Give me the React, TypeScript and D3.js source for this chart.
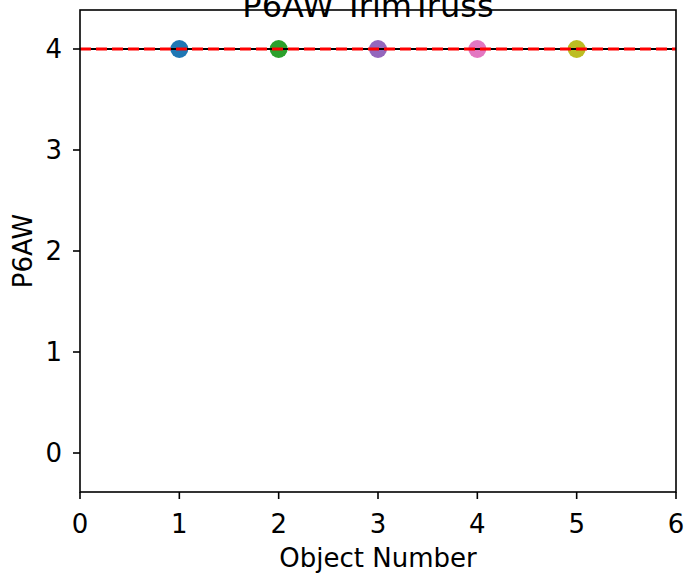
import React from "react";
import * as d3 from "d3";

const objectNumbers = [1, 2, 3, 4, 5];
const p6awValues = [4, 4, 4, 4, 4];
const pointColors = ["#1f77b4", "#2ca02c", "#9467bd", "#e377c2", "#bcbd22"];
const referenceValue = [4];
const xTicks = [0, 1, 2, 3, 4, 5, 6];
const yTicks = [0, 1, 2, 3, 4];
const title = "P6AW TrimTruss";
const xLabel = "Object Number";
const yLabel = "P6AW";

export default function App() {
  const W = 685, H = 574;
  const left = 80, right = 676, top = 10, bottom = 492;
  const x = d3.scaleLinear().domain([0, 6]).range([left, right]);
  const y = d3.scaleLinear().domain([-0.3861, 4.3861]).range([bottom, top]);
  const font = "DejaVu Sans, sans-serif";
  return (
    <svg width={W} height={H} style={{ position: "absolute", left: 0, top: 0 }} fontFamily={font}>
      <rect x={0} y={0} width={W} height={H} fill="white" />
      {objectNumbers.map((n, i) => (
        <circle key={i} cx={x(n)} cy={y(p6awValues[i])} r={9} fill={pointColors[i]} />
      ))}
      {referenceValue.map((v, i) => (
        <g key={i}>
          <line x1={left} x2={right} y1={y(v)} y2={y(v)} stroke="black" strokeWidth={2} />
          <line x1={left} x2={right} y1={y(v)} y2={y(v)} stroke="red" strokeWidth={3} strokeDasharray="11,5" />
        </g>
      ))}
      <rect x={left} y={top} width={right - left} height={bottom - top} fill="none" stroke="black" strokeWidth={1.6} />
      {xTicks.map((t) => (
        <g key={t}>
          <line x1={x(t)} x2={x(t)} y1={bottom} y2={bottom + 7} stroke="black" strokeWidth={1.6} />
          <text x={x(t)} y={533} textAnchor="middle" fontSize={26}>{t}</text>
        </g>
      ))}
      {yTicks.map((t) => (
        <g key={t}>
          <line x1={left - 7} x2={left} y1={y(t)} y2={y(t)} stroke="black" strokeWidth={1.6} />
          <text x={left - 18} y={y(t) + 9} textAnchor="end" fontSize={26}>{t}</text>
        </g>
      ))}
      <text x={(left + right) / 2} y={567} textAnchor="middle" fontSize={26}>{xLabel}</text>
      <text transform={`translate(32, ${(top + bottom) / 2}) rotate(-90)`} textAnchor="middle" fontSize={26}>{yLabel}</text>
      <text x={368} y={17} textAnchor="middle" fontSize={32}>{title}</text>
    </svg>
  );
}
